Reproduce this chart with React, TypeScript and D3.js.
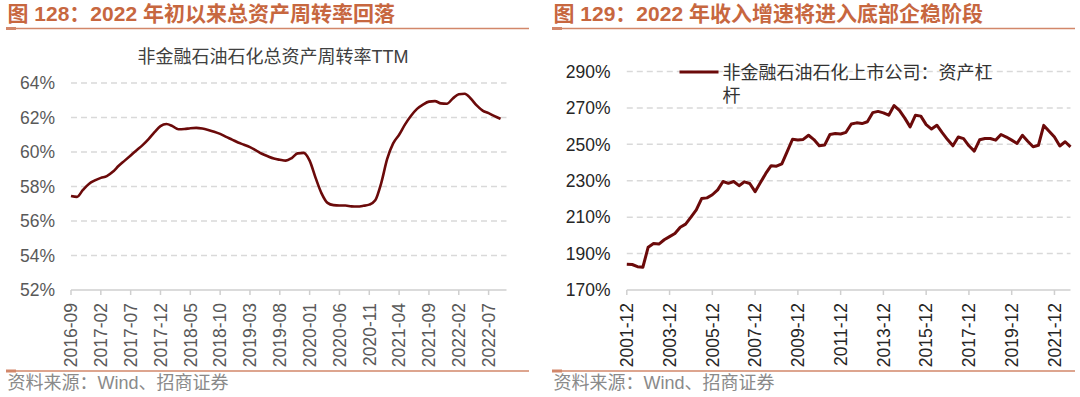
import React from "react";
import * as d3 from "d3";

// ---------- data ----------
const leftTitle = "图 128：2022 年初以来总资产周转率回落";
const rightTitle = "图 129：2022 年收入增速将进入底部企稳阶段";
const leftSubtitle = "非金融石油石化总资产周转率TTM";
const rightLegend = ["非金融石油石化上市公司：资产杠", "杆"];
const sourceText = "资料来源：Wind、招商证券";

// monthly, 2016-09 .. 2022-09
const leftValues = [
  57.45, 57.4, 57.8, 58.15, 58.35, 58.5, 58.6, 58.85, 59.2, 59.5,
  59.8, 60.1, 60.4, 60.75, 61.15, 61.5, 61.62, 61.5, 61.32, 61.33,
  61.38, 61.4, 61.36, 61.28, 61.18, 61.05, 60.88, 60.72, 60.55, 60.42,
  60.28, 60.1, 59.9, 59.75, 59.62, 59.55, 59.5, 59.65, 59.92, 59.95,
  59.5, 58.5, 57.6, 57.05, 56.92, 56.9, 56.9, 56.85, 56.84, 56.88,
  56.95, 57.2, 58.2, 59.6, 60.5, 61.0, 61.6, 62.1, 62.5, 62.75,
  62.92, 62.95, 62.82, 62.8, 63.1, 63.35, 63.38, 63.1, 62.7, 62.4,
  62.25, 62.08, 61.92,
];
const leftTickLabels = [
  "2016-09", "2017-02", "2017-07", "2017-12", "2018-05", "2018-10", "2019-03", "2019-08",
  "2020-01", "2020-06", "2020-11", "2021-04", "2021-09", "2022-02", "2022-07",
];
const leftTickStep = 5;
const leftYTicks = [52, 54, 56, 58, 60, 62, 64];

// quarterly, 2001-12 .. 2022-09
const rightValues = [
  184.2, 184.0, 182.8, 182.5, 193.5, 195.5, 195.2, 197.6, 199.3, 201,
  204.5, 206.2, 210, 214, 220.2, 220.6, 222.3, 225, 229.6, 228.6,
  229.6, 227.3, 229.4, 228.5, 224, 229, 234, 238.3, 238, 239.3,
  246, 252.8, 252.4, 252.7, 255, 252.6, 249.2, 249.6, 255.4, 255.9,
  255.7, 256.6, 261.2, 261.8, 261.4, 262.4, 267.4, 268.1, 267.3, 266,
  271.3, 268.6, 264.4, 259.6, 266, 265.5, 260.8, 258.4, 260.5, 256.4,
  252.6, 249.2, 254, 253.1, 249.2, 246.3, 252.5, 253.2, 253.2, 252.3,
  255.4, 254, 252.3, 250.5, 255, 251.7, 248.7, 249.5, 260.4, 257.2,
  254, 249.1, 251.4, 248.6,
];
const rightTickLabels = [
  "2001-12", "2003-12", "2005-12", "2007-12", "2009-12", "2011-12",
  "2013-12", "2015-12", "2017-12", "2019-12", "2021-12",
];
const rightTickStep = 8;
const rightYTicks = [170, 190, 210, 230, 250, 270, 290];

// ---------- styles ----------
const FONT = "'Liberation Sans', Arial, 'Noto Sans CJK SC', sans-serif";
const TITLE_COLOR = "#c7673f";
const RULE_COLOR = "#d2876a";
const LINE_COLOR = "#6b0a0a";
const GRID_COLOR = "#d9d9d9";

function Header({ x0, x1, title }: { x0: number; x1: number; title: string }) {
  return (
    <g>
      <text x={x0 + 1.5} y={21} fontFamily={FONT} fontSize={21} fontWeight="bold" fill={TITLE_COLOR}>
        {title}
      </text>
      <line x1={x0} x2={x1} y1={28.5} y2={28.5} stroke={RULE_COLOR} strokeWidth={1.5} />
      <line x1={x0} x2={x0 + 10} y1={28.5} y2={28.5} stroke={RULE_COLOR} strokeWidth={3} />
      <line x1={x0} x2={x1} y1={371} y2={371} stroke={RULE_COLOR} strokeWidth={1.5} />
      <line x1={x0} x2={x0 + 10} y1={371} y2={371} stroke={RULE_COLOR} strokeWidth={3} />
      <text x={x0 + 1.5} y={389} fontFamily={FONT} fontSize={18} fill="#8a8a8a">
        {sourceText}
      </text>
    </g>
  );
}

function Panel(props: {
  values: number[];
  xDomainMax: number;
  xRange: [number, number];
  yDomain: [number, number];
  yRange: [number, number];
  yTicks: number[];
  tickLabels: string[];
  tickStep: number;
  yLabelRight: number;
  labelColor: string;
  yLabelColor: string;
  smooth: boolean;
  strokeWidth: number;
}) {
  const x = d3.scaleLinear().domain([0, props.xDomainMax]).range(props.xRange);
  const y = d3.scaleLinear().domain(props.yDomain).range(props.yRange);
  const line = d3
    .line<number>()
    .x((_, i) => x(i))
    .y((d) => y(d))
    .curve(props.smooth ? d3.curveMonotoneX : d3.curveLinear);
  const [xa, xb] = props.xRange;
  const y0 = y(props.yDomain[0]);
  return (
    <g>
      {props.yTicks.map((t) => (
        <g key={t}>
          {t !== props.yDomain[0] && (
            <line x1={xa} x2={xb} y1={y(t)} y2={y(t)} stroke={GRID_COLOR} strokeWidth={1.5} strokeDasharray="6,4" />
          )}
          <text
            x={props.yLabelRight}
            y={y(t)}
            dy="0.36em"
            textAnchor="end"
            fontFamily={FONT}
            fontSize={17.5}
            fill={props.yLabelColor}
          >
            {t}%
          </text>
        </g>
      ))}
      <line x1={xa} x2={xb} y1={y0} y2={y0} stroke="#cfcfcf" strokeWidth={1.5} />
      {props.tickLabels.map((lab, i) => {
        const tx = x(i * props.tickStep);
        return (
          <g key={lab}>
            <line x1={tx} x2={tx} y1={y0} y2={y0 + 5} stroke="#cfcfcf" strokeWidth={1.5} />
            <text
              transform={`translate(${tx},${303}) rotate(-90)`}
              dy="0.36em"
              textAnchor="end"
              fontFamily={FONT}
              fontSize={17.5}
              fill={props.labelColor}
            >
              {lab}
            </text>
          </g>
        );
      })}
      <path d={line(props.values) || ""} fill="none" stroke={LINE_COLOR} strokeWidth={props.strokeWidth} strokeLinejoin="round" />
    </g>
  );
}

export default function App() {
  return (
    <svg
      width={1080}
      height={397}
      viewBox="0 0 1080 397"
      style={{ position: "absolute", left: 0, top: 0, background: "#fff" }}
    >
      <rect width={1080} height={397} fill="#fff" />
      <Header x0={6} x1={529} title={leftTitle} />
      <Header x0={552} x1={1075} title={rightTitle} />

      <text x={273} y={63} textAnchor="middle" fontFamily={FONT} fontSize={18} fill="#404040">
        {leftSubtitle}
      </text>

      <Panel
        values={leftValues}
        xDomainMax={73}
        xRange={[71, 506.5]}
        yDomain={[52, 64]}
        yRange={[290, 83]}
        yTicks={leftYTicks}
        tickLabels={leftTickLabels}
        tickStep={leftTickStep}
        yLabelRight={55}
        labelColor="#595959"
        yLabelColor="#595959"
        smooth={true}
        strokeWidth={2.6}
      />
      <Panel
        values={rightValues}
        xDomainMax={83}
        xRange={[626.8, 1070.5]}
        yDomain={[170, 290]}
        yRange={[290, 71.5]}
        yTicks={rightYTicks}
        tickLabels={rightTickLabels}
        tickStep={rightTickStep}
        yLabelRight={610.5}
        labelColor="#262626"
        yLabelColor="#262626"
        smooth={false}
        strokeWidth={3}
      />

      <line x1={679.5} x2={718.5} y1={72} y2={72} stroke={LINE_COLOR} strokeWidth={3} />
      {rightLegend.map((t, i) => (
        <text key={i} x={722.5} y={78.5 + i * 23.5} fontFamily={FONT} fontSize={18} fill="#333">
          {t}
        </text>
      ))}
    </svg>
  );
}
